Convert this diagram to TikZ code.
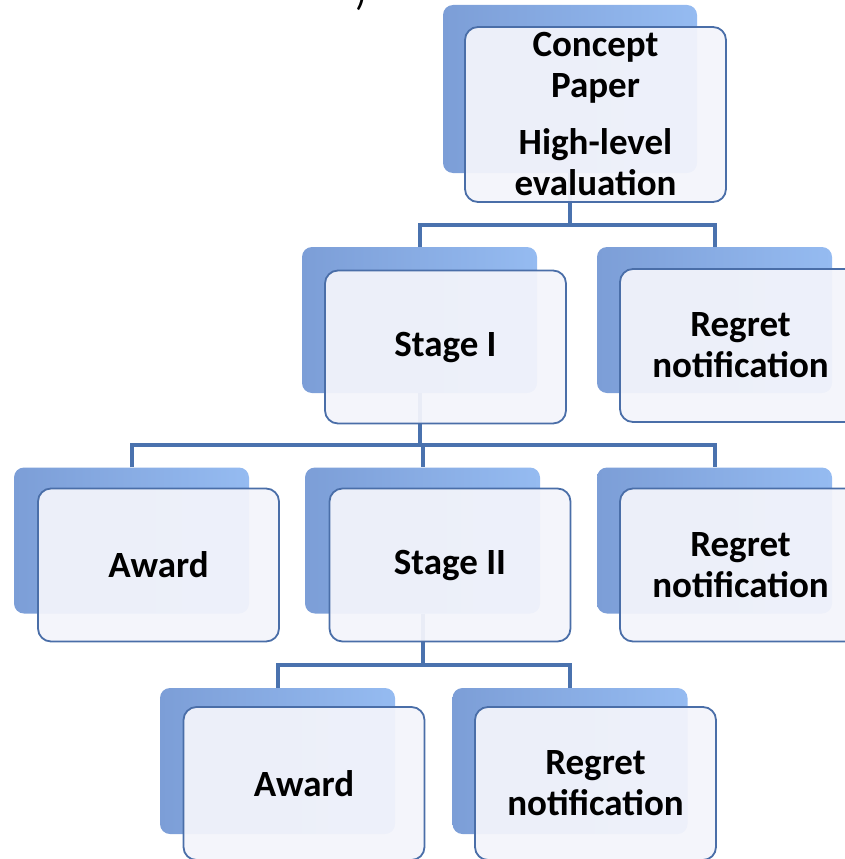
\documentclass[tikz,border=0pt]{standalone}
\usepackage{fontspec}
\setmainfont{Carlito}
\usetikzlibrary{positioning}

\definecolor{linkblue}{HTML}{4A72AE}
\definecolor{backdark}{HTML}{7C9ED7}
\definecolor{backlight}{HTML}{95BBF1}
\definecolor{frontfill}{HTML}{F3F4FB}
\definecolor{frontline}{HTML}{4A6EA8}

\tikzset{
  backbox/.style={rounded corners=10pt, left color=backdark, right color=backlight,
    minimum width=235pt, minimum height=146pt, inner sep=0pt},
  frontbox/.style={rounded corners=13pt, draw=frontline, line width=1.8pt,
    fill=frontfill, fill opacity=0.94, text opacity=1, text=black,
    minimum width=241pt, minimum height=153pt, align=center, inner sep=0pt,
    font=\bfseries\fontsize{37}{41}\selectfont},
  link/.style={draw=linkblue, line width=4pt}
}

\begin{document}
\begin{tikzpicture}[x=1pt, y=-1pt]
    \clip (0,0) rectangle (845,859);
    \node[anchor=base, font=\fontsize{37}{41}\selectfont] (titleend) at (361,6) {)};
    % shadow boxes
    \node[backbox, minimum width=254pt, minimum height=168pt] (conceptb) at (570,89) {};
    \node[backbox] (stageib) at (419.5,320) {};
    \node[backbox] (regretib) at (714.5,320) {};
    \node[backbox] (awardib) at (131.5,540.5) {};
    \node[backbox] (stageiib) at (422.5,540.5) {};
    \node[backbox] (regretiib) at (714.5,540.5) {};
    \node[backbox] (awardiib) at (277.5,761) {};
    \node[backbox] (regretiiib) at (570,761) {};
    % connectors
    \draw[link] (conceptb.south) -- ++(0,52) coordinate (busi);
    \draw[link] (stageib.north) |- (busi) -| (regretib.north);
    \draw[link] (stageib.south) -- ++(0,52) coordinate (busii);
    \draw[link] (awardib.north) |- (busii) -| (regretiib.north);
    \draw[link] (busii) -| (stageiib.north);
    \draw[link] (stageiib.south) -- ++(0,51) coordinate (busiii);
    \draw[link] (awardiib.north) |- (busiii) -| (regretiiib.north);
    % front boxes
    \node[frontbox, minimum width=261pt, minimum height=175pt] (concept) at (595.5,114.5)
        {Concept\\Paper\\[16pt]High-level\\evaluation};
    \node[frontbox] (stagei) at (445.5,347) {Stage I};
    \node[frontbox] (regreti) at (740.5,345.5) {Regret\\notification};
    \node[frontbox] (awardi) at (158.5,565) {Award};
    \node[frontbox] (stageii) at (450,565) {Stage II};
    \node[frontbox] (regretii) at (740.5,565) {Regret\\notification};
    \node[frontbox] (awardii) at (304,783.5) {Award};
    \node[frontbox] (regretiii) at (595.5,783.5) {Regret\\notification};
\end{tikzpicture}
\end{document}
